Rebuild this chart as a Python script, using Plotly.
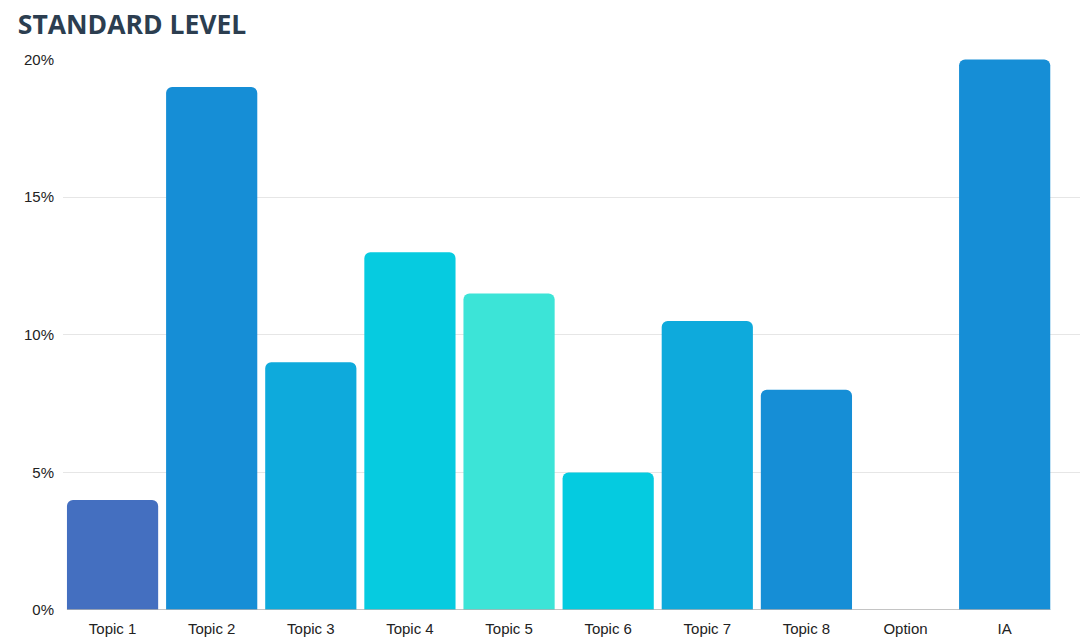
import plotly.graph_objects as go

categories = ["Topic 1", "Topic 2", "Topic 3", "Topic 4", "Topic 5", "Topic 6", "Topic 7", "Topic 8", "Option", "IA"]
values = [4, 19, 9, 13, 11.5, 5, 10.5, 8, 0, 20]
colors = ["#446fc0", "#168ed6", "#0eaadc", "#06cbe0", "#3ce4d7", "#05cbe0", "#0eaadc", "#168ed6", "#168ed6", "#168ed6"]
tick_vals = [0, 5, 10, 15, 20]
tick_text = ["0%", "5%", "10%", "15%", "20%"]

fig = go.Figure(go.Bar(
    x=list(range(len(categories))), y=values,
    marker=dict(color=colors, line=dict(width=0)),
    width=0.92,
))
fig.update_layout(
    width=1080, height=638,
    margin=dict(l=63, r=0, t=59, b=28),
    paper_bgcolor="white", plot_bgcolor="white",
    barcornerradius=6,
    showlegend=False,
    title=dict(text="<b>STANDARD LEVEL</b>", x=0.0165, xanchor="left", y=0.962, yanchor="middle",
               font=dict(family="Open Sans", size=26.5, color="#2c3e50")),
    xaxis=dict(tickmode="array", tickvals=list(range(len(categories))), ticktext=categories,
               range=[-0.5, 9.76], showgrid=False, zeroline=False,
               showline=False, ticks="", ticklabelstandoff=8,
               tickfont=dict(family="Liberation Sans", size=15, color="#222")),
    yaxis=dict(range=[0, 20.02], tickvals=tick_vals, ticktext=tick_text,
               showgrid=True, gridcolor="#e6e6e6", gridwidth=1, zeroline=False,
               ticks="", ticklabelstandoff=8,
               tickfont=dict(family="Liberation Sans", size=15, color="#222")),
)
fig.add_shape(type="line", xref="x", yref="y", x0=-0.46, x1=9.46, y0=0, y1=0,
              line=dict(color="#b0b0b0", width=1.5))
fig.write_html("out.html")
